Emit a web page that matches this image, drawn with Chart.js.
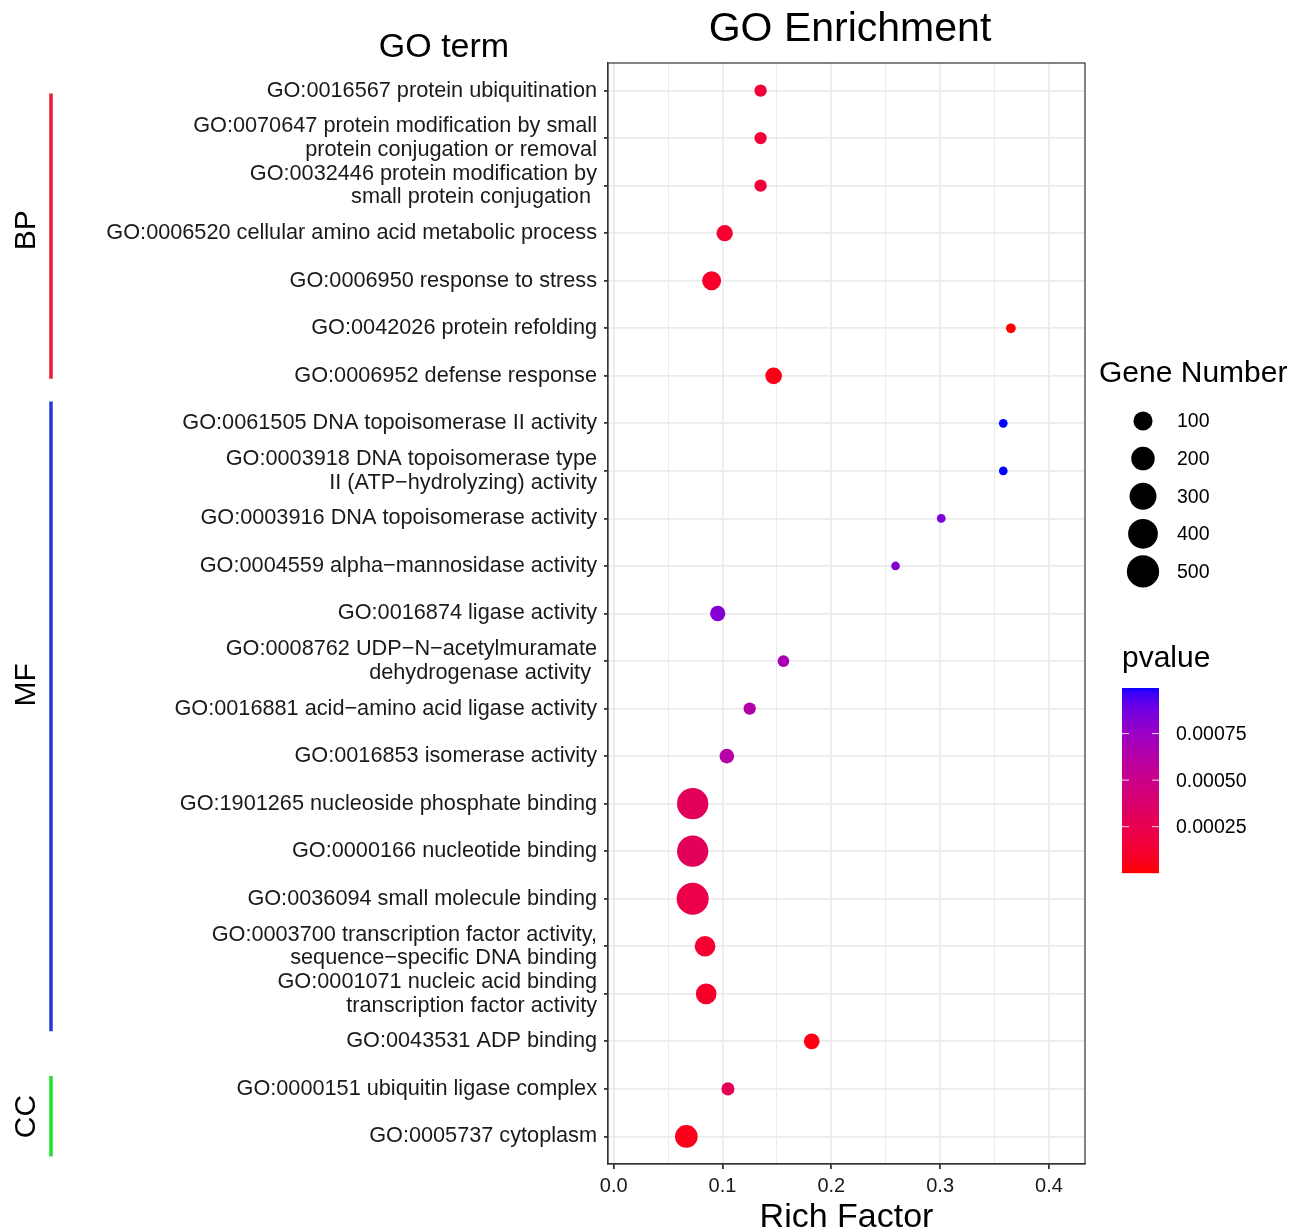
<!DOCTYPE html>
<html><head><meta charset="utf-8">
<script src="https://cdn.jsdelivr.net/npm/chart.js@4.4.1/dist/chart.umd.min.js"></script>
<style>html,body{margin:0;padding:0;background:#fff;}</style>
</head><body>
<canvas id="c" width="1306" height="1232" style="display:block"></canvas>
<script>
const categories = [
  ['GO:0016567 protein ubiquitination'],
  ['GO:0070647 protein modification by small', 'protein conjugation or removal'],
  ['GO:0032446 protein modification by', 'small protein conjugation '],
  ['GO:0006520 cellular amino acid metabolic process'],
  ['GO:0006950 response to stress'],
  ['GO:0042026 protein refolding'],
  ['GO:0006952 defense response'],
  ['GO:0061505 DNA topoisomerase II activity'],
  ['GO:0003918 DNA topoisomerase type', 'II (ATP\u2212hydrolyzing) activity'],
  ['GO:0003916 DNA topoisomerase activity'],
  ['GO:0004559 alpha\u2212mannosidase activity'],
  ['GO:0016874 ligase activity'],
  ['GO:0008762 UDP\u2212N\u2212acetylmuramate', 'dehydrogenase activity '],
  ['GO:0016881 acid\u2212amino acid ligase activity'],
  ['GO:0016853 isomerase activity'],
  ['GO:1901265 nucleoside phosphate binding'],
  ['GO:0000166 nucleotide binding'],
  ['GO:0036094 small molecule binding'],
  ['GO:0003700 transcription factor activity,', 'sequence\u2212specific DNA binding'],
  ['GO:0001071 nucleic acid binding', 'transcription factor activity'],
  ['GO:0043531 ADP binding'],
  ['GO:0000151 ubiquitin ligase complex'],
  ['GO:0005737 cytoplasm']
];
const richFactor = [0.135, 0.135, 0.135, 0.102, 0.090, 0.365, 0.147, 0.358, 0.358, 0.301, 0.259, 0.0956, 0.156, 0.125, 0.104, 0.0726, 0.0726, 0.0726, 0.084, 0.085, 0.182, 0.105, 0.0668];
const geneNumber = [15, 15, 15, 55, 98, 4, 60, 3, 3, 3, 3, 42, 11, 15, 35, 461, 461, 490, 132, 132, 47, 20, 179];
const pValue = [0.00015, 0.00015, 0.00016, 0.00012, 0.0001, 0.000001, 0.00004, 0.000995, 0.000995, 0.00085, 0.00082, 0.00082, 0.00068, 0.00064, 0.00062, 0.0003, 0.0003, 0.00022, 0.00012, 0.0001, 0.00003, 0.00028, 0.00005];

const xTicks = [0, 0.05, 0.1, 0.15, 0.2, 0.25, 0.3, 0.35, 0.4];
const xTickLabels = ['0.0', '', '0.1', '', '0.2', '', '0.3', '', '0.4'];

const groups = ['BP', 'MF', 'CC'];
const groupStart = [0.06, 6.54, 20.73];
const groupEnd = [6.06, 19.79, 22.42];
const groupLabelPos = [2.94, 12.5, 21.58];
const groupColors = ['#E8193C', '#2A36D6', '#1EE12E'];

const legendGenes = [100, 200, 300, 400, 500];
const pTicks = [0.00025, 0.0005, 0.00075];
const pTickLabels = ['0.00025', '0.00050', '0.00075'];

const FONT = '"Liberation Sans", Arial, Helvetica, sans-serif';

// size scale (ggplot-like area scale)
const gMin = Math.min(...geneNumber), gMax = Math.max(...geneNumber);
function diameterFor(n) {
  const t = Math.max(0, (n - gMin) / (gMax - gMin));
  return 8.7 + 23.3 * Math.sqrt(t);
}
// colour scale: red -> blue interpolated in CIELAB
const pMin = Math.min(...pValue), pMax = Math.max(...pValue);
function srgbToLab(r, g, b) {
  const lin = v => { v /= 255; return v <= 0.04045 ? v / 12.92 : Math.pow((v + 0.055) / 1.055, 2.4); };
  const R = lin(r), G = lin(g), B = lin(b);
  const X = (0.4124 * R + 0.3576 * G + 0.1805 * B) / 0.95047;
  const Y = (0.2126 * R + 0.7152 * G + 0.0722 * B);
  const Z = (0.0193 * R + 0.1192 * G + 0.9505 * B) / 1.08883;
  const f = t => t > 216 / 24389 ? Math.cbrt(t) : (24389 / 27 * t + 16) / 116;
  const fx = f(X), fy = f(Y), fz = f(Z);
  return [116 * fy - 16, 500 * (fx - fy), 200 * (fy - fz)];
}
function labToRgb(L, a, b) {
  const fy = (L + 16) / 116, fx = fy + a / 500, fz = fy - b / 200;
  const inv = t => t > 6 / 29 ? t * t * t : 3 * (6 / 29) * (6 / 29) * (t - 4 / 29);
  const X = 0.95047 * inv(fx), Y = inv(fy), Z = 1.08883 * inv(fz);
  let r = 3.2406 * X - 1.5372 * Y - 0.4986 * Z;
  let g = -0.9689 * X + 1.8758 * Y + 0.0415 * Z;
  let bb = 0.0557 * X - 0.2040 * Y + 1.0570 * Z;
  const gam = v => { v = v <= 0.0031308 ? 12.92 * v : 1.055 * Math.pow(v, 1 / 2.4) - 0.055; return Math.round(Math.min(1, Math.max(0, v)) * 255); };
  return `rgb(${gam(r)},${gam(g)},${gam(bb)})`;
}
const labLow = srgbToLab(255, 0, 0), labHigh = srgbToLab(0, 0, 255);
function colorFor(p) {
  const t = Math.min(1, Math.max(0, (p - pMin) / (pMax - pMin)));
  return labToRgb(labLow[0] + (labHigh[0] - labLow[0]) * t, labLow[1] + (labHigh[1] - labLow[1]) * t, labLow[2] + (labHigh[2] - labLow[2]) * t);
}

const decor = {
  id: 'decor',
  afterDraw(chart) {
    const { ctx, chartArea: a, scales: { y } } = chart;
    ctx.save();
    ctx.strokeStyle = '#333'; ctx.lineWidth = 1.2;
    ctx.strokeRect(a.left, a.top, a.right - a.left, a.bottom - a.top);
    ctx.fillStyle = '#000'; ctx.textAlign = 'center'; ctx.textBaseline = 'middle';
    ctx.font = '41px ' + FONT; ctx.fillText('GO Enrichment', 850, 30);
    ctx.font = '34px ' + FONT; ctx.fillText('GO term', 444, 48);
    groups.forEach((g, i) => {
      const y0 = y.getPixelForValue(groupStart[i]), y1 = y.getPixelForValue(groupEnd[i]);
      ctx.strokeStyle = groupColors[i]; ctx.lineWidth = 3.5;
      ctx.beginPath(); ctx.moveTo(51, y0); ctx.lineTo(51, y1); ctx.stroke();
      ctx.save(); ctx.translate(27, y.getPixelForValue(groupLabelPos[i])); ctx.rotate(-Math.PI / 2);
      ctx.font = '30px ' + FONT; ctx.fillStyle = '#000'; ctx.fillText(g, 0, 0); ctx.restore();
    });
    // Gene Number legend
    ctx.textAlign = 'left';
    ctx.font = '30px ' + FONT; ctx.fillText('Gene Number', 1099, 374);
    legendGenes.forEach((n, i) => {
      const cy = 421 + i * 37.6;
      ctx.beginPath(); ctx.arc(1143, cy, diameterFor(n) / 2, 0, Math.PI * 2); ctx.fillStyle = '#000'; ctx.fill();
      ctx.font = '19.5px ' + FONT; ctx.fillText(String(n), 1177, cy + 1);
    });
    // pvalue colourbar
    ctx.font = '30px ' + FONT; ctx.fillText('pvalue', 1122, 659);
    const bx = 1122, bw = 37, bTop = 688, bBot = 873;
    for (let py = bTop; py < bBot; py++) {
      const p = pMin + (bBot - py - 0.5) / (bBot - bTop) * (pMax - pMin);
      ctx.fillStyle = colorFor(p); ctx.fillRect(bx, py, bw, 1.2);
    }
    ctx.strokeStyle = 'rgba(255,255,255,0.85)'; ctx.lineWidth = 1;
    pTicks.forEach((p, i) => {
      const ty = bBot - (p - pMin) / (pMax - pMin) * (bBot - bTop);
      ctx.beginPath(); ctx.moveTo(bx, ty); ctx.lineTo(bx + 7, ty); ctx.moveTo(bx + bw - 7, ty); ctx.lineTo(bx + bw, ty); ctx.stroke();
      ctx.fillStyle = '#000'; ctx.font = '19.5px ' + FONT; ctx.fillText(pTickLabels[i], 1176, ty + 1);
    });
    ctx.restore();
  }
};

const isMajor = v => Math.abs(v * 10 - Math.round(v * 10)) < 1e-6;

new Chart(document.getElementById('c'), {
  type: 'scatter',
  data: {
    datasets: [{
      data: richFactor.map((x, i) => ({ x, y: i })),
      pointRadius: c => diameterFor(geneNumber[c.dataIndex]) / 2,
      pointHoverRadius: c => diameterFor(geneNumber[c.dataIndex]) / 2,
      pointBackgroundColor: c => colorFor(pValue[c.dataIndex]),
      pointBorderWidth: 0,
      borderWidth: 0
    }]
  },
  options: {
    responsive: false, animation: false, devicePixelRatio: 1,
    layout: { padding: { left: 0, right: 221, top: 63, bottom: 0 } },
    plugins: { legend: { display: false }, tooltip: { enabled: false } },
    scales: {
      x: {
        type: 'linear', min: -0.0052, max: 0.4331,
        afterBuildTicks: s => { s.ticks = xTicks.map(v => ({ value: v })); },
        afterFit: s => { s.height = 68; },
        ticks: {
          autoSkip: false, maxRotation: 0, padding: 5, color: '#1a1a1a',
          font: { family: FONT, size: 20 },
          callback: (v, i) => xTickLabels[i]
        },
        grid: {
          color: '#EBEBEB',
          lineWidth: c => (c.tick && isMajor(c.tick.value)) ? 1.8 : 1,
          tickColor: c => (c.tick && isMajor(c.tick.value)) ? '#333' : 'rgba(0,0,0,0)',
          tickLength: 5, drawTicks: true
        },
        border: { display: true, color: '#333', width: 1.2 },
        title: {
          display: true, text: 'Rich Factor', color: '#000',
          font: { family: FONT, size: 34, lineHeight: 1 }, padding: { top: 0, bottom: -3 }
        }
      },
      y: {
        type: 'linear', reverse: true, min: -0.58, max: 22.58,
        afterBuildTicks: s => { s.ticks = categories.map((_, i) => ({ value: i })); },
        afterFit: s => { s.width = 608; },
        ticks: {
          autoSkip: false, padding: 7, color: '#1a1a1a',
          font: { family: FONT, size: 21.7, lineHeight: 1.08 },
          callback: v => categories[Math.round(v)]
        },
        grid: { color: '#EBEBEB', lineWidth: 1.8, tickColor: '#333', tickLength: 4 },
        border: { display: true, color: '#333', width: 1.2 }
      }
    }
  },
  plugins: [decor]
});
</script>
</body></html>
